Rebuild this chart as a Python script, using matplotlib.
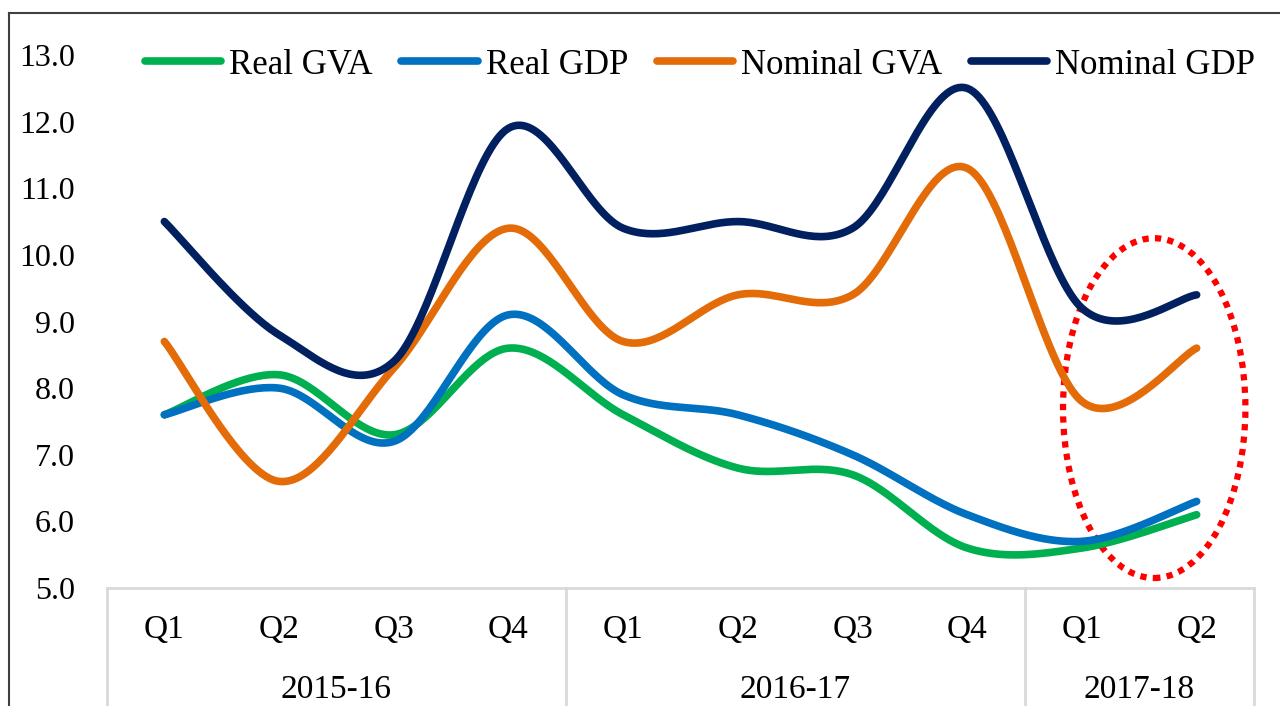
import numpy as np
import matplotlib
matplotlib.use("Agg")
import matplotlib.pyplot as plt
from matplotlib.patches import Ellipse
from matplotlib.lines import Line2D
import matplotlib.transforms as mtransforms

# ---------------- data ----------------
quarters = ["Q1", "Q2", "Q3", "Q4", "Q1", "Q2", "Q3", "Q4", "Q1", "Q2"]
years = ["2015-16", "2016-17", "2017-18"]
year_sizes = [4, 4, 2]
real_gva = [7.6, 8.2, 7.3, 8.6, 7.6, 6.8, 6.7, 5.6, 5.6, 6.1]
real_gdp = [7.6, 8.0, 7.2, 9.1, 7.9, 7.6, 7.0, 6.1, 5.7, 6.3]
nominal_gva = [8.7, 6.6, 8.3, 10.4, 8.7, 9.4, 9.4, 11.3, 7.8, 8.6]
nominal_gdp = [10.5, 8.8, 8.4, 11.9, 10.4, 10.5, 10.4, 12.5, 9.2, 9.4]
series_names = ["Real GVA", "Real GDP", "Nominal GVA", "Nominal GDP"]
series_values = [real_gva, real_gdp, nominal_gva, nominal_gdp]
colors = ["#00B050", "#0070C0", "#E36C09", "#002060"]
y_ticks = [5.0, 6.0, 7.0, 8.0, 9.0, 10.0, 11.0, 12.0, 13.0]


def smooth(xs, ys, n=40):
    """Excel-like smoothed line (Catmull-Rom via cubic Bezier)."""
    P = np.column_stack([xs, ys]).astype(float)
    m = len(P)
    out = []
    for i in range(m - 1):
        p0 = P[i - 1] if i > 0 else P[i]
        p1 = P[i]
        p2 = P[i + 1]
        p3 = P[i + 2] if i + 2 < m else P[i + 1]
        c1 = p1 + (p2 - p0) / 6.0
        c2 = p2 - (p3 - p1) / 6.0
        t = np.linspace(0, 1, n)[:, None]
        seg = ((1 - t) ** 3) * p1 + 3 * ((1 - t) ** 2) * t * c1 + 3 * (1 - t) * t ** 2 * c2 + t ** 3 * p2
        if i > 0:
            seg = seg[1:]
        out.append(seg)
    out = np.vstack(out)
    return out[:, 0], out[:, 1]


FONT = "Liberation Serif"
FS_TICK = 23
FS_CAT = 24
FS_LEG = 25

W, H = 1280, 706
fig = plt.figure(figsize=(W / 100, H / 100), dpi=100)
fig.patch.set_facecolor("white")

left_px, right_px, top_px, bot_px = 107, 1254, 55, 588
ax = fig.add_axes([left_px / W, 1 - bot_px / H, (right_px - left_px) / W, (bot_px - top_px) / H])

x = np.arange(len(quarters))
for name, vals, col in zip(series_names, series_values, colors):
    sx, sy = smooth(x, vals)
    ax.plot(sx, sy, color=col, lw=5.5, solid_capstyle="round", label=name)

ax.set_xlim(-0.5, len(quarters) - 0.5)
ax.set_ylim(5.0, 13.0)
ax.set_yticks(y_ticks)
ax.set_yticklabels([f"{v:.1f}" for v in y_ticks], fontfamily=FONT, fontsize=FS_TICK)
ax.tick_params(axis="y", length=0, pad=23)
ax.set_xticks([])
for s in ["top", "right", "left"]:
    ax.spines[s].set_visible(False)
ax.spines["bottom"].set_color("#D9D9D9")
ax.spines["bottom"].set_linewidth(2)

# multi-level category axis
trans = mtransforms.blended_transform_factory(ax.transData, ax.transAxes)
ax_h = bot_px - top_px
q_y = -(630 - bot_px) / ax_h
yr_y = -(690 - bot_px) / ax_h
for i, q in enumerate(quarters):
    ax.text(i, q_y, q, transform=trans, ha="center", va="center",
            fontfamily=FONT, fontsize=FS_CAT, clip_on=False)
start = 0
bounds = [-0.5]
for yr, size in zip(years, year_sizes):
    mid = start + (size - 1) / 2.0
    ax.text(mid, yr_y, yr, transform=trans, ha="center", va="center",
            fontfamily=FONT, fontsize=FS_CAT, clip_on=False)
    start += size
    bounds.append(start - 0.5)
for b in bounds:
    ax.add_line(Line2D([b, b], [0, -(H - bot_px + 5) / ax_h], transform=trans,
                       color="#D9D9D9", lw=2, clip_on=False))

# red dotted ellipse highlighting 2017-18
ell = Ellipse((8.63, 7.70), width=1.59, height=5.1, fill=False, edgecolor="#FF0000",
              lw=4.5, linestyle=(0, (1, 1)), clip_on=False)
ax.add_patch(ell)

# legend
leg = ax.legend(loc="center", bbox_to_anchor=((700 - left_px) / (right_px - left_px),
                                               (bot_px - 65) / ax_h),
                ncol=4, frameon=False, handlelength=2.2, handletextpad=0.23,
                columnspacing=0.83, prop={"family": FONT, "size": FS_LEG})

# figure frame (outer chart border)
fig.add_artist(Line2D([9 / W, 9 / W], [0, 1 - 13 / H], transform=fig.transFigure,
                      color="#404040", lw=1.5))
fig.add_artist(Line2D([9 / W, 1.0], [1 - 13 / H, 1 - 13 / H], transform=fig.transFigure,
                      color="#404040", lw=1.5))

fig.savefig("out.png", dpi=100, facecolor="white")
